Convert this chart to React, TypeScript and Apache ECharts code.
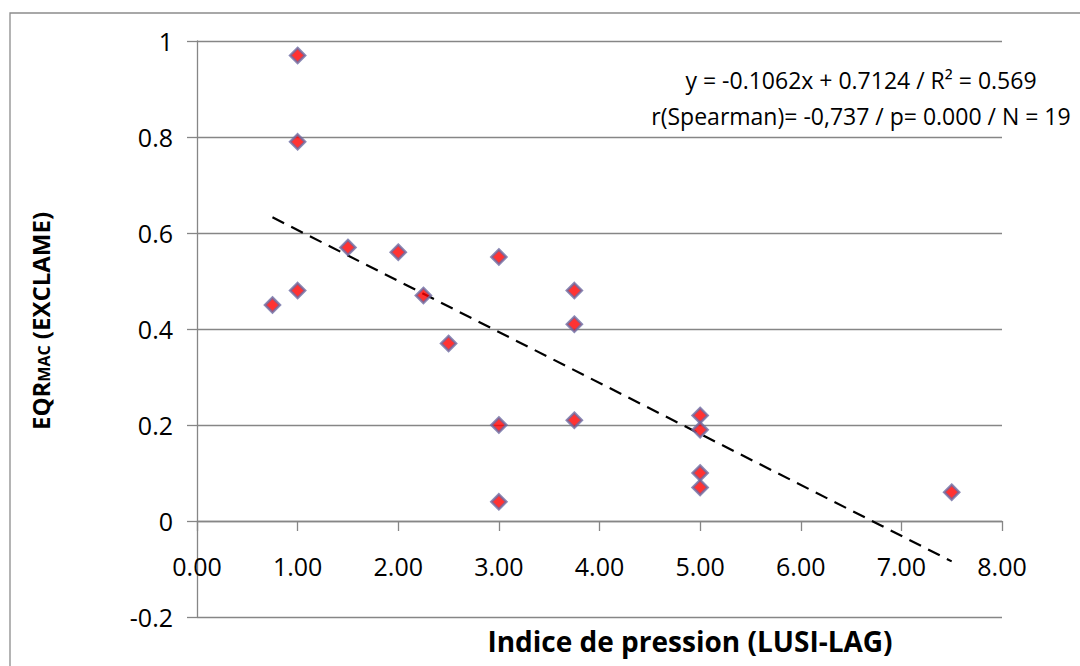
import React, { useEffect, useRef } from "react";
import * as echarts from "echarts";

const pressureIndex = [0.75, 1, 1, 1, 1.5, 2, 2.25, 2.5, 3, 3, 3, 3.75, 3.75, 3.75, 5, 5, 5, 5, 7.5];
const eqrValues = [0.45, 0.97, 0.79, 0.48, 0.57, 0.56, 0.47, 0.37, 0.55, 0.2, 0.04, 0.48, 0.41, 0.21, 0.22, 0.19, 0.1, 0.07, 0.06];
const trendSlope = -0.1062;
const trendIntercept = 0.7124;
const trendX = [0.75, 7.5];
const annotationLines = [
  "y = -0.1062x + 0.7124 / R² = 0.569",
  "r(Spearman)= -0,737 / p= 0.000 / N = 19",
];
const xTitle = "Indice de pression (LUSI-LAG)";

const FONT = "'Open Sans', 'Noto Sans', sans-serif";

export default function App() {
  const ref = useRef<HTMLDivElement>(null);
  useEffect(() => {
    if (!ref.current) return;
    const chart = echarts.init(ref.current, null, { renderer: "svg" });
    const points = pressureIndex.map((x, i) => [x, eqrValues[i]]);
    const trend = trendX.map((x) => [x, trendSlope * x + trendIntercept]);
    chart.setOption({
      animation: false,
      backgroundColor: "#ffffff",
      grid: { left: 197, right: 78, top: 41, bottom: 49, containLabel: false },
      xAxis: {
        type: "value",
        min: 0,
        max: 8,
        interval: 1,
        axisLine: { show: true, onZero: true, lineStyle: { color: "#868686", width: 1.3 } },
        axisTick: { show: true, inside: false, length: 10, lineStyle: { color: "#868686", width: 1.3 } },
        axisLabel: {
          margin: -64,
          color: "#000",
          fontFamily: FONT,
          fontSize: 25,
          formatter: (v: number) => v.toFixed(2),
        },
        splitLine: { show: false },
      },
      yAxis: {
        type: "value",
        min: -0.2,
        max: 1,
        interval: 0.2,
        axisLine: { show: true, onZero: false, lineStyle: { color: "#868686", width: 1.3 } },
        axisTick: { show: true, inside: false, length: 10, lineStyle: { color: "#868686", width: 1.3 } },
        axisLabel: {
          margin: 24,
          color: "#000",
          fontFamily: FONT,
          fontSize: 25,
          formatter: (v: number) => String(Math.round(v * 10) / 10),
        },
        splitLine: { show: true, lineStyle: { color: "#868686", width: 1.3 } },
      },
      series: [
        {
          type: "line",
          data: trend,
          symbol: "none",
          silent: true,
          lineStyle: { color: "#000", width: 2.2, type: [13, 8] },
          z: 2,
        },
        {
          type: "scatter",
          data: points,
          symbol: "diamond",
          symbolSize: 15,
          itemStyle: { color: "#ff0000", borderColor: "#6b6ba3", borderWidth: 2.5 },
          z: 3,
        },
      ],
      graphic: [
        {
          type: "rect",
          shape: { x: 10, y: 13, width: 1100, height: 700 },
          style: { fill: "none", stroke: "#8c8c8c", lineWidth: 1.3 },
          silent: true,
          z: -1,
        },
        {
          type: "text",
          x: 861,
          y: 80,
          style: {
            text: annotationLines[0],
            fontFamily: FONT,
            fontSize: 23,
            fill: "#000",
            align: "center",
            verticalAlign: "middle",
          },
        },
        {
          type: "text",
          x: 861,
          y: 116,
          style: {
            text: annotationLines[1],
            fontFamily: FONT,
            fontSize: 23,
            fill: "#000",
            align: "center",
            verticalAlign: "middle",
          },
        },
        {
          type: "text",
          x: 690,
          y: 641,
          style: {
            text: xTitle,
            fontFamily: FONT,
            fontSize: 28,
            fontWeight: "bold",
            fill: "#000",
            align: "center",
            verticalAlign: "middle",
          },
        },
        {
          type: "text",
          x: 40,
          y: 321,
          rotation: Math.PI / 2,
          style: {
            text: "{a|EQR}{b|MAC}{a| (EXCLAME)}",
            fill: "#000",
            align: "center",
            verticalAlign: "middle",
            rich: {
              a: { fontFamily: FONT, fontSize: 24, fontWeight: "bold", fill: "#000", verticalAlign: "bottom" },
              b: { fontFamily: FONT, fontSize: 16, fontWeight: "bold", fill: "#000", verticalAlign: "bottom" },
            },
          },
        },
      ],
    });
    return () => chart.dispose();
  }, []);
  return (
    <div
      ref={ref}
      style={{ position: "fixed", left: 0, top: 0, width: 1080, height: 666 }}
    />
  );
}
